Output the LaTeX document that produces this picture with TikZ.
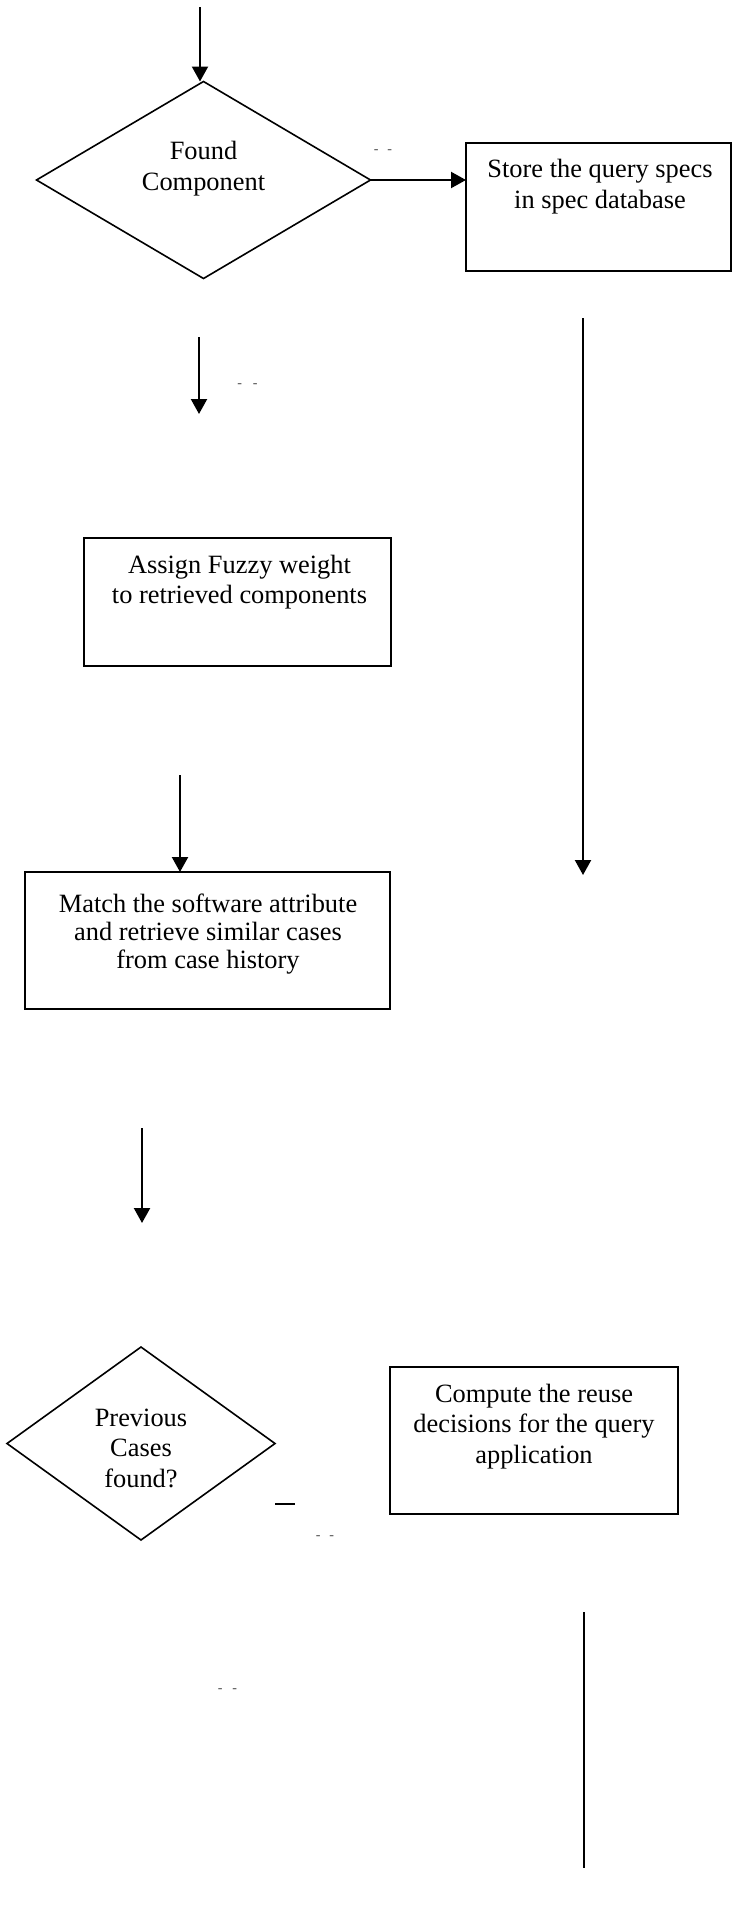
\documentclass[tikz,border=0pt]{standalone}
\usepackage{fontspec}
\setmainfont{Liberation Serif}
\usetikzlibrary{shapes.geometric,arrows.meta}
\begin{document}
\begin{tikzpicture}[x=1pt,y=-1pt,
  procbox/.style={draw, rectangle, line width=2pt, inner sep=0pt, outer sep=0pt},
  decision/.style={draw, diamond, line width=1.6pt, inner sep=0pt, outer sep=0pt},
  flowtext/.style={font=\fontsize{26.4}{#1}\selectfont, align=center, anchor=base, inner sep=0pt},
  flowarrow/.style={line width=2.2pt, -{Triangle[width=16pt,length=15pt]}},
  plainline/.style={line width=2.2pt},
  dotlbl/.style={font=\fontsize{14}{14}\selectfont, text=black!70, inner sep=0pt}]
\useasboundingbox (0,0) rectangle (733,1906);
\fill[white] (0,0) rectangle (733,1906);

% first decision and the spec store (text nodes sit on their last baseline)
\coordinate (in0) at (200,7);
\node[decision, minimum width=334pt, minimum height=197pt] (found) at (203.5,180) {};
\node[flowtext=31.5] (foundtxt) at (203.5,190.5) {Found\\Component};
\node[procbox, minimum width=265pt, minimum height=128pt] (store) at (598.5,207) {};
\node[flowtext=31.5] (storetxt) at (600,208.5) {Store the query specs\\in spec database};
\draw[flowarrow] (in0) -- (in0 |- found.north);
\draw[flowarrow] (found.east) -- (found.east -| store.west);
\node[dotlbl] (noA) at (383,152) {-\kern9pt-};

% yes branch
\coordinate (y1s) at (199,337);
\coordinate (y1e) at (199,414);
\draw[flowarrow] (y1s) -- (y1e);
\node[dotlbl] (yesA) at (247.5,386) {-\kern11pt-};

% long line under the spec store
\coordinate (n1s) at (583,318);
\coordinate (n1e) at (583,875);
\draw[flowarrow] (n1s) -- (n1e);

% fuzzy weighting
\node[procbox, minimum width=307pt, minimum height=128pt] (fuzzy) at (237.5,602) {};
\node[flowtext=30] (fuzzytxt) at (239.5,603) {Assign Fuzzy weight\\to retrieved components};

% case matching
\coordinate (m1s) at (180,775);
\node[procbox, minimum width=365pt, minimum height=137pt] (match) at (207.5,940.5) {};
\draw[flowarrow] (m1s) -- (m1s |- match.north);
\node[flowtext=28.3] (matchtxt) at (208,968.6) {Match the software attribute\\and retrieve similar cases\\from case history};

\coordinate (c1s) at (142,1128);
\coordinate (c1e) at (142,1223);
\draw[flowarrow] (c1s) -- (c1e);

% second decision and reuse computation
\node[decision, minimum width=268pt, minimum height=193pt] (prev) at (141,1443.5) {};
\node[flowtext=30.5] (prevtxt) at (141,1487) {Previous\\Cases\\found?};
\node[procbox, minimum width=288pt, minimum height=147pt] (reuse) at (534,1440.5) {};
\node[flowtext=30.5] (reusetxt) at (534,1463) {Compute the reuse\\decisions for the query\\application};

\coordinate (dashs) at (275,1504);
\coordinate (dashe) at (295,1504);
\draw[plainline] (dashs) -- (dashe);
\node[dotlbl] (noB) at (325,1538) {-\kern9pt-};
\node[dotlbl] (yesB) at (227.5,1691) {-\kern10pt-};

\coordinate (r1s) at (584,1612);
\coordinate (r1e) at (584,1868);
\draw[plainline] (r1s) -- (r1e);
\end{tikzpicture}
\end{document}
